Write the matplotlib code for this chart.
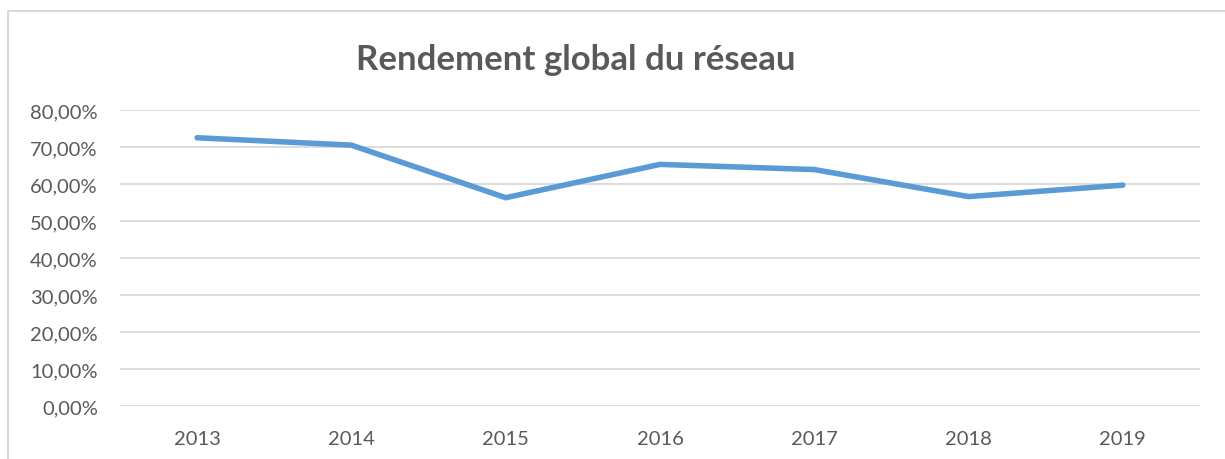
import matplotlib.pyplot as plt
from matplotlib.patches import Rectangle
from matplotlib.ticker import FuncFormatter

years = ['2013', '2014', '2015', '2016', '2017', '2018', '2019']
rendement = [0.725, 0.705, 0.563, 0.653, 0.639, 0.566, 0.597]
y_ticks = [0.0, 0.1, 0.2, 0.3, 0.4, 0.5, 0.6, 0.7, 0.8]

plt.rcParams['font.family'] = ['Lato', 'DejaVu Sans']
text_color = '#595959'

fig = plt.figure(figsize=(12.25, 4.6), dpi=100)
ax = fig.add_axes([120 / 1225, 1 - 407 / 460, 1080 / 1225, 296 / 460])

# chart area border
fig.patches.append(Rectangle((8 / 1225, -0.05), 1.2, 1 - 12 / 460 + 0.05,
                             transform=fig.transFigure, fill=False,
                             edgecolor='#d9d9d9', linewidth=1.5))

x = list(range(len(years)))
ax.plot(x, rendement, color='#5b9bd5', linewidth=4.0, solid_capstyle='round',
        solid_joinstyle='miter')

ax.set_xlim(-0.5, len(years) - 0.5)
ax.set_ylim(0, 0.8)
ax.set_yticks(y_ticks)
ax.yaxis.set_major_formatter(FuncFormatter(lambda v, p: f"{v * 100:.2f}%".replace('.', ',')))
ax.set_xticks(x)
ax.set_xticklabels(years)
ax.tick_params(axis='both', length=0, colors=text_color, labelsize=14.5)
ax.tick_params(axis='y', pad=16)
ax.tick_params(axis='x', pad=17)

ax.grid(axis='y', color='#d9d9d9', linewidth=1.3)
ax.set_axisbelow(True)
for s in ax.spines.values():
    s.set_visible(False)

fig.text(576 / 1225, 1 - 60 / 460, 'Rendement global du réseau', ha='center', va='center',
         fontsize=25, fontweight='bold', color=text_color)

fig.savefig('out.png', dpi=100)
